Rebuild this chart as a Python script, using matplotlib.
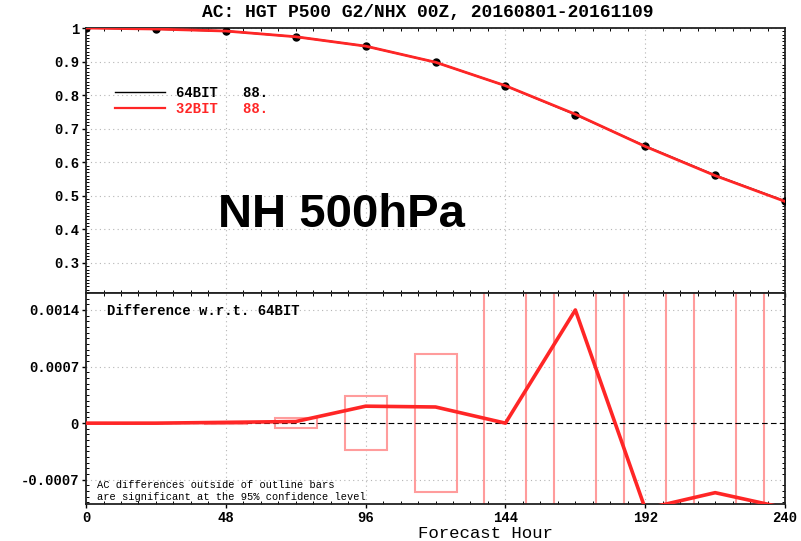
import numpy as np
import matplotlib
matplotlib.use('Agg')
import matplotlib.pyplot as plt
from matplotlib.lines import Line2D
from matplotlib.ticker import MultipleLocator

# forecast hours and anomaly correlation
hours = [0, 24, 48, 72, 96, 120, 144, 168, 192, 216, 240]
ac_64bit = [1.0, 0.997, 0.991, 0.974, 0.946, 0.898, 0.828, 0.742, 0.648, 0.561, 0.484]
ac_32bit = [1.0, 0.997, 0.991, 0.974, 0.946, 0.898, 0.828, 0.743, 0.647, 0.560, 0.483]

# difference 32BIT - 64BIT and half-height of the 95% confidence bars
ac_diff = [0.0, 0.0, 0.00001, 0.00002, 0.00021, 0.0002, 0.0, 0.0014, -0.00106, -0.00086, -0.00105]
ci_half = [0.0, 0.000004, 0.000008, 0.00006, 0.00033, 0.00085, 0.002, 0.002, 0.002, 0.002, 0.002]

top_yticks = [0.3, 0.4, 0.5, 0.6, 0.7, 0.8, 0.9, 1.0]
top_ylabels = ['0.3', '0.4', '0.5', '0.6', '0.7', '0.8', '0.9', '1']
bot_yticks = [-0.0007, 0, 0.0007, 0.0014]
bot_ylabels = ['-0.0007', '0', '0.0007', '0.0014']
xticks = [0, 48, 96, 144, 192, 240]

title = 'AC: HGT P500 G2/NHX 00Z, 20160801-20161109'
mono = 'Liberation Mono'
red = '#ff2626'
pink = '#ff9c9c'

fig = plt.figure(figsize=(8.01, 5.41), dpi=100)
ax1 = fig.add_axes([0.1074, 0.4584, 0.8727, 0.4898])
ax2 = fig.add_axes([0.1074, 0.0684, 0.8727, 0.39])

for ax in (ax1, ax2):
	ax.set_xlim(0, 240)
	ax.set_xticks(xticks)
	ax.xaxis.set_minor_locator(MultipleLocator(6))
	ax.grid(True, which='major', linestyle=(0, (1, 3)), color='#b5b5b5', lw=0.8)
	ax.tick_params(which='major', direction='out', length=3, width=1.0, pad=2)
	ax.tick_params(which='minor', direction='in', length=2, width=0.7,
				   top=True, right=True)
	for s in ax.spines.values():
		s.set_linewidth(1.3)
		s.set_color('#222222')

# ---- top panel: AC scores
ax1.plot(hours, ac_64bit, color='black', lw=1.2, marker='o', ms=5,
		 mfc='black', mec='black', zorder=3)
ax1.plot(hours, ac_32bit, color=red, lw=2.0, zorder=4)
ax1.set_ylim(0.21, 1.0)
ax1.set_yticks(top_yticks)
ax1.set_yticklabels(top_ylabels, fontfamily=mono, fontweight='bold', fontsize=10)
ax1.yaxis.set_minor_locator(MultipleLocator(0.01))
ax1.tick_params(axis='x', labelbottom=False)

handles = [Line2D([], [], color='black', lw=1.0), Line2D([], [], color=red, lw=1.6)]
ax1.legend(handles, ['64BIT   88.', '32BIT   88.'], loc='upper left',
		   bbox_to_anchor=(0.0415, 0.782), frameon=False, borderpad=0,
		   borderaxespad=0, handlelength=3.6, handletextpad=0.8,
		   labelspacing=0.15, labelcolor=['black', red],
		   prop={'family': mono, 'weight': 'bold', 'size': 10})

ax1.text(0.189, 0.249, 'NH 500hPa', transform=ax1.transAxes,
		 fontfamily='Liberation Sans', fontweight='bold', fontsize=34,
		 ha='left', va='baseline')

# ---- bottom panel: difference w.r.t. 64BIT
ax2.bar(hours, [2 * c for c in ci_half], bottom=[-c for c in ci_half], width=14.4,
		fill=False, edgecolor=pink, lw=1.5, zorder=2)
ax2.axhline(0, color='black', ls=(0, (5, 3)), lw=0.8, zorder=3)
ax2.plot(hours, ac_diff, color=red, lw=2.6, zorder=4)
ax2.set_ylim(-0.001, 0.00161)
ax2.set_yticks(bot_yticks)
ax2.set_yticklabels(bot_ylabels, fontfamily=mono, fontweight='bold', fontsize=10)
ax2.yaxis.set_minor_locator(MultipleLocator(0.00007))
ax2.set_xticklabels([str(h) for h in xticks], fontfamily=mono, fontweight='bold', fontsize=10)

ax2.text(0.03, 0.915, 'Difference w.r.t. 64BIT', transform=ax2.transAxes,
		 fontfamily=mono, fontweight='bold', fontsize=10, ha='left', va='center')
ax2.text(0.016, 0.091, 'AC differences outside of outline bars', transform=ax2.transAxes,
		 fontfamily=mono, fontsize=7.5, ha='left', va='center')
ax2.text(0.016, 0.033, 'are significant at the 95% confidence level', transform=ax2.transAxes,
		 fontfamily=mono, fontsize=7.5, ha='left', va='center')

fig.text(428 / 801, 1 - 13 / 541, title, fontfamily=mono, fontweight='bold',
		 fontsize=13, ha='center', va='center')
fig.text(485 / 801, 1 - 533 / 541, 'Forecast Hour', fontfamily=mono,
		 fontsize=12.5, ha='center', va='center')

fig.savefig('out.png', dpi=100)
